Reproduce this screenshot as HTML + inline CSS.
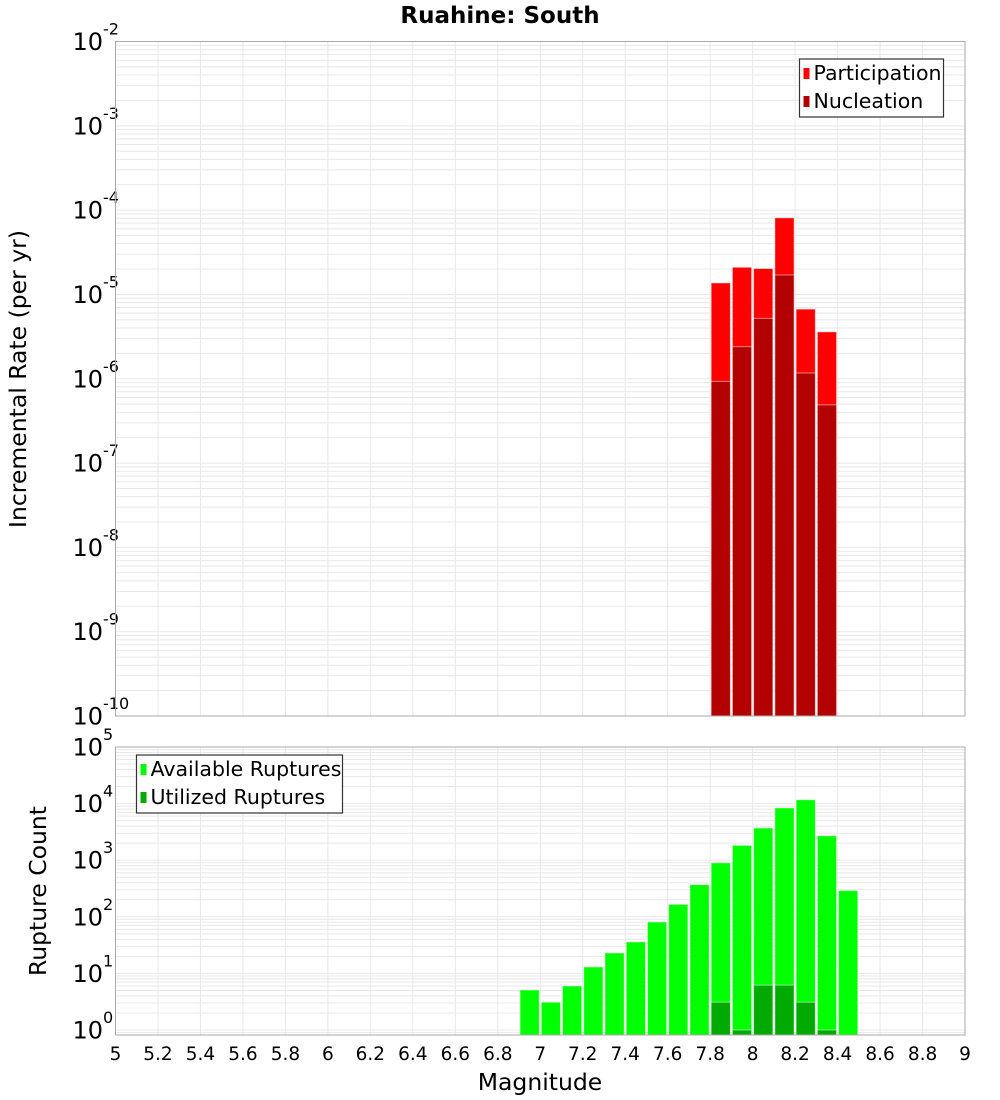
<!DOCTYPE html>
<html><head><meta charset="utf-8">
<style>
html,body{margin:0;padding:0;background:#fff;}
svg{display:block;font-family:"DejaVu Sans","Liberation Sans",sans-serif;}
</style></head>
<body>
<svg id="chart" width="1000" height="1100" viewBox="0 0 1000 1100" xmlns="http://www.w3.org/2000/svg">
<text x="500" y="23" text-anchor="middle" font-size="23" font-weight="bold">Ruahine: South</text>
<text transform="translate(26,379) rotate(-90)" text-anchor="middle" font-size="23.5">Incremental Rate (per yr)</text>
<text transform="translate(46,891) rotate(-90)" text-anchor="middle" font-size="23.5">Rupture Count</text>
<text x="540" y="1090" text-anchor="middle" font-size="23.5">Magnitude</text>
<g id="top"></g>
<g id="bot"></g>
</svg>
<script>
const binCenters = [7.85,7.95,8.05,8.15,8.25,8.35];
const participation = [1.37e-5,2.1e-5,2.03e-5,8.1e-5,6.7e-6,3.6e-6];
const nucleation = [9.3e-7,2.4e-6,5.2e-6,1.7e-5,1.17e-6,4.9e-7];
const countCenters = [6.95,7.05,7.15,7.25,7.35,7.45,7.55,7.65,7.75,7.85,7.95,8.05,8.15,8.25,8.35,8.45];
const available = [5.1,3.1,6,13,23,36,81,166,370,900,1830,3700,8400,11700,2700,290];
const utilized = [0,0,0,0,0,0,0,0,0,3.1,1,6.2,6.2,3.1,1,0];
const xTicks = [5,5.2,5.4,5.6,5.8,6,6.2,6.4,6.6,6.8,7,7.2,7.4,7.6,7.8,8,8.2,8.4,8.6,8.8,9];
const topExps = [-2,-3,-4,-5,-6,-7,-8,-9,-10];
const botExps = [5,4,3,2,1,0];

const NS="http://www.w3.org/2000/svg";
function mk(p,tag,a){const e=document.createElementNS(NS,tag);for(const k in a)e.setAttribute(k,a[k]);p.appendChild(e);return e;}
const X0=115.5,X1=965;
const xs=m=>X0+(m-5)/4*(X1-X0);
function panel(g,top,bottom,yOf,lmin,lmax,exps){
  const grid=mk(g,'g',{});
  
  
  for(let d=Math.floor(lmin);d<lmax;d++){for(let k=1;k<10;k++){const y=yOf(Math.pow(10,d)*k);if(y<top||y>bottom)continue;
    mk(grid,'line',{x1:X0,x2:X1,y1:y,y2:y,stroke:'#e8e8e8','stroke-width':1});}}
  for(let i=0;i<=20;i++){const x=xs(5+i*0.2);mk(grid,'line',{x1:x,x2:x,y1:top,y2:bottom,stroke:'#e8e8e8','stroke-width':1});}
  exps.forEach(e=>{const y=yOf(Math.pow(10,e));
    const t=mk(g,'text',{x:103,y:y+8.5,'text-anchor':'end','font-size':24});
    
    
    t.textContent='10';
    const s=mk(g,'text',{x:103,y:y-7,'font-size':16});
    
    
    s.textContent=String(e);});
}
function bars(g,centers,vals,yOf,bottom,color,name){
  centers.forEach((c,i)=>{if(!(vals[i]>0))return;const xa=xs(c-0.05),xb=xs(c+0.05);let y=Math.max(yOf(vals[i]),0);
    const r=mk(g,'rect',{x:xa+1,y:y,width:xb-xa-2,height:bottom-y,fill:color,stroke:'#fff','stroke-opacity':0.5,'stroke-width':1});
    
    });
}
const T0=41.5,T1=716,tg=document.getElementById('top');
const yT=v=>T0+(-2-Math.log10(v))*(T1-T0)/8;
panel(tg,T0,T1,yT,-10,-2,topExps);
bars(tg,binCenters,participation,yT,T1,'#ff0000','participation-bar');
bars(tg,binCenters,nucleation,yT,T1,'#b30000','nucleation-bar');
mk(tg,'rect',{x:X0,y:T0,width:X1-X0,height:T1-T0,fill:'none',stroke:'#aaa','stroke-width':1});
const B0=747,B1=1035,bg=document.getElementById('bot');
const yB=v=>1030-Math.log10(v)*56.6;
panel(bg,B0,B1,yB,-1,5,botExps);
bars(bg,countCenters,available,yB,B1,'#00ff00','available-bar');
bars(bg,countCenters,utilized,yB,B1,'#00aa00','utilized-bar');
mk(bg,'rect',{x:X0,y:B0,width:X1-X0,height:B1-B0,fill:'none',stroke:'#aaa','stroke-width':1});
xTicks.forEach(m=>{const t=mk(bg,'text',{x:xs(m),y:1060,'text-anchor':'middle','font-size':18.5});
  
  
  t.textContent=String(m);});
function legend(g,x,y,w,items){
  const lg=mk(g,'g',{});
  
  
  mk(lg,'rect',{x:x,y:y,width:w,height:58,fill:'#fff',stroke:'#333','stroke-width':1.2});
  items.forEach((it,i)=>{const cy=y+14+i*28;
    mk(lg,'rect',{x:x+4,y:cy-5,width:6,height:11,fill:it[1]});
    const t=mk(lg,'text',{x:x+14,y:cy+7,'font-size':20.5});
    
    
    t.textContent=it[0];});
}
legend(tg,799.5,59,144,[['Participation','#ff0000'],['Nucleation','#b30000']]);
legend(bg,136.5,755,206,[['Available Ruptures','#00ff00'],['Utilized Ruptures','#00aa00']]);
</script>
</body></html>
